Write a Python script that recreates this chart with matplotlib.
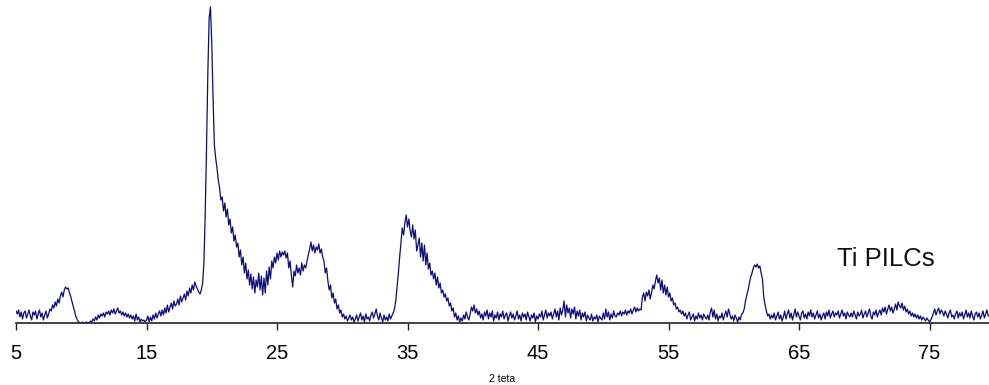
import numpy as np
import matplotlib
matplotlib.use("Agg")
import matplotlib.pyplot as plt

# Scan grid: 2-theta from 5.0 to 79.5 degrees, 0.1 degree steps
scan_start, scan_stop, scan_step = 5.0, 79.5, 0.1

# Intensity (arbitrary units), one row per degree of 2-theta
counts_05_20 = [
    12, 9, 13, 6, 11, 4, 10, 12, 5, 9,
    13, 7, 3, 11, 8, 12, 4, 9, 13, 6,
    10, 3, 8, 12, 5, 9, 14, 12, 18, 15,
    21, 17, 24, 20, 27, 31, 26, 33, 36, 34,
    35, 30, 26, 21, 16, 11, 6, 3, 1, 0,
    0, 1, 0, 0, 1, 0, 0, 2, 1, 4,
    2, 6, 3, 8, 5, 9, 7, 10, 6, 11,
    9, 12, 8, 13, 10, 14, 9, 12, 15, 10,
    12, 8, 11, 7, 10, 6, 9, 5, 8, 4,
    7, 2, 9, 3, 6, 1, 4, 2, 3, 1,
    3, 7, 1, 6, 2, 8, 4, 10, 5, 9,
    12, 7, 13, 8, 15, 10, 18, 11, 16, 20,
    14, 22, 17, 19, 24, 18, 27, 21, 25, 29,
    23, 32, 27, 35, 30, 38, 33, 41, 37, 34,
    31, 29, 33, 40, 60, 110, 175, 250, 305, 316,
]

counts_20_35 = [
    280, 225, 178, 165, 155, 143, 135, 123, 126, 112,
    120, 106, 114, 98, 104, 90, 96, 82, 88, 76,
    80, 66, 73, 58, 66, 50, 60, 44, 53, 38,
    49, 34, 46, 30, 43, 36, 50, 33, 47, 28,
    45, 30, 52, 38, 56, 44, 62, 55, 66, 60,
    70, 63, 72, 66, 71, 68, 72, 65, 70, 55,
    62, 48, 36, 52, 47, 58, 50, 55, 48, 60,
    52, 58, 55, 62, 68, 74, 81, 72, 78, 70,
    76, 73, 79, 70, 74, 66, 62, 50, 55, 42,
    33, 38, 25, 30, 20, 24, 14, 18, 10, 13,
    6, 9, 4, 7, 2, 5, 8, 3, 6, 1,
    4, 8, 2, 6, 10, 3, 7, 1, 9, 4,
    6, 2, 8, 11, 5, 9, 14, 7, 3, 10,
    5, 1, 8, 3, 6, 2, 9, 4, 7, 10,
    14, 22, 36, 50, 66, 80, 95, 88, 100, 108,
]

counts_35_50 = [
    96, 104, 92, 86, 98, 84, 93, 72, 78, 85,
    66, 80, 62, 78, 58, 70, 54, 60, 48, 52,
    44, 50, 38, 46, 35, 40, 30, 33, 26, 29,
    22, 25, 17, 20, 12, 15, 6, 10, 3, 7,
    1, 5, 2, 8, 4, 11, 6, 3, 9, 16,
    12, 18, 10, 14, 8, 12, 5, 9, 3, 11,
    7, 13, 4, 10, 6, 12, 2, 8, 5, 11,
    3, 9, 6, 12, 4, 8, 10, 2, 7, 11,
    5, 9, 3, 7, 12, 4, 8, 2, 10, 6,
    9, 3, 11, 6, 2, 8, 5, 10, 1, 7,
    4, 9, 6, 12, 3, 8, 13, 5, 10, 7,
    11, 4, 9, 14, 6, 12, 3, 15, 8, 13,
    22, 6, 18, 10, 15, 5, 14, 9, 16, 4,
    12, 7, 13, 3, 10, 6, 11, 2, 8, 5,
    3, 9, 2, 6, 4, 8, 1, 7, 5, 3,
]

counts_50_65 = [
    10, 4, 14, 6, 11, 3, 9, 5, 12, 7,
    6, 10, 8, 12, 7, 11, 9, 13, 8, 12,
    10, 14, 9, 13, 16, 11, 15, 12, 14, 13,
    26, 30, 22, 31, 27, 33, 24, 30, 38, 34,
    42, 48, 40, 45, 33, 43, 30, 38, 28, 36,
    26, 30, 22, 25, 18, 20, 14, 16, 11, 13,
    9, 12, 7, 10, 4, 8, 11, 3, 6, 9,
    2, 7, 4, 10, 5, 8, 3, 9, 6, 4,
    8, 3, 11, 15, 6, 13, 4, 9, 2, 7,
    5, 10, 3, 8, 12, 6, 14, 9, 4, 7,
    2, 8, 5, 1, 6, 3, 9, 10, 14, 22,
    28, 33, 40, 46, 50, 55, 58, 56, 59, 55,
    57, 50, 44, 26, 18, 12, 7, 9, 4, 8,
    5, 10, 3, 7, 11, 4, 8, 2, 6, 12,
    4, 9, 13, 5, 10, 3, 8, 14, 6, 11,
]

counts_65_80 = [
    7, 3, 10, 12, 5, 9, 4, 11, 7, 13,
    6, 10, 4, 8, 12, 5, 9, 3, 7, 10,
    4, 11, 7, 13, 5, 9, 12, 6, 10, 8,
    12, 5, 9, 13, 7, 10, 4, 11, 8, 6,
    10, 6, 12, 8, 4, 11, 7, 9, 13, 5,
    9, 12, 6, 10, 14, 7, 4, 11, 8, 13,
    6, 10, 13, 8, 15, 11, 16, 9, 14, 18,
    12, 16, 10, 14, 19, 13, 21, 17, 15, 20,
    13, 17, 11, 14, 9, 12, 7, 10, 6, 9,
    5, 8, 4, 7, 3, 6, 4, 2, 5, 3,
    1, 3, 6, 10, 14, 8, 12, 15, 9, 13,
    11, 7, 12, 9, 5, 10, 13, 6, 8, 4,
    9, 12, 5, 10, 7, 11, 4, 8, 13, 6,
    10, 5, 12, 7, 3, 9, 11, 6, 10, 4,
    8, 12, 5, 9, 13, 7,
]

tick_values = [5, 15, 25, 35, 45, 55, 65, 75]
x_label = "2 teta"
sample_name = "Ti PILCs"

intensity = np.array(counts_05_20 + counts_20_35 + counts_35_50
                     + counts_50_65 + counts_65_80, dtype=float)
two_theta = np.round(np.arange(scan_start, scan_stop + scan_step / 2, scan_step), 2)
n = min(len(two_theta), len(intensity))
two_theta, intensity = two_theta[:n], intensity[:n]

plt.rcParams["font.family"] = ["Liberation Sans", "DejaVu Sans"]

fig = plt.figure(figsize=(9.89, 3.85), dpi=100)
ax = fig.add_axes([16 / 989, 62 / 385, 1 - 16 / 989, 323 / 385])

ax.plot(two_theta, intensity, color="#0c0c7a", linewidth=0.9)

ax.set_xlim(5, 5 + 973 / 13.05)
ax.set_ylim(0, 323)

for side in ("left", "right", "top"):
    ax.spines[side].set_visible(False)
ax.spines["bottom"].set_color("#222222")
ax.spines["bottom"].set_linewidth(1.2)

ax.set_yticks([])
ax.set_xticks(tick_values)
ax.set_xticklabels([str(v) for v in tick_values])
ax.tick_params(axis="x", direction="out", length=5, width=1.0,
               color="#222222", labelsize=14.5, pad=10)
ax.set_xlabel(x_label, fontsize=7.5, labelpad=8)

ax.text(67.9, 64, sample_name, fontsize=18.5, ha="left", va="center",
        color="#111111")

fig.savefig("out.png", dpi=100)
